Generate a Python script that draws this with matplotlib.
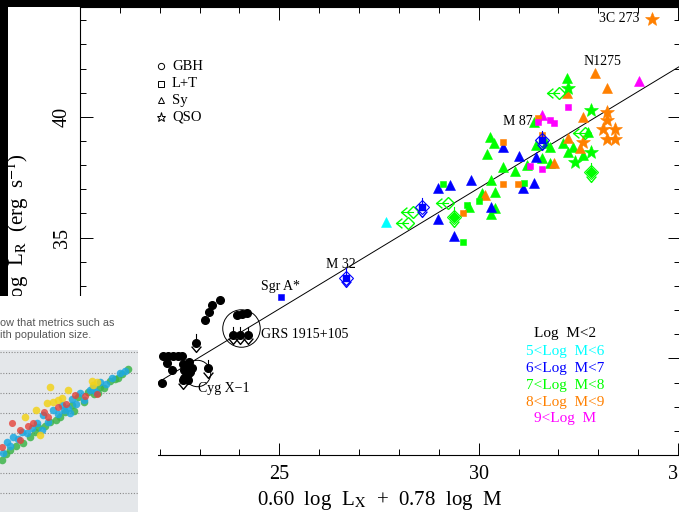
import matplotlib
matplotlib.use('Agg')
import matplotlib.pyplot as plt
from matplotlib.patches import Rectangle
from matplotlib.path import Path
from matplotlib.ticker import MultipleLocator

plt.rcParams['font.family'] = ['Liberation Serif', 'DejaVu Serif']
plt.rcParams['mathtext.fontset'] = 'stix'

# ---------------- data ----------------
# Galactic black holes (filled black circles)
gbh_x = [23.51, 23.31, 23.23, 23.13, 23.93, 24.06, 24.19, 22.08, 22.21, 22.33, 22.46,
         22.56, 22.18, 22.31, 22.58, 22.66, 22.73, 22.61, 22.76, 22.66, 22.81, 22.71,
         22.61, 22.05, 22.63, 22.70]
gbh_y = [32.42, 32.21, 31.92, 31.59, 31.80, 31.84, 31.88, 30.10, 30.10, 30.10, 30.10,
         30.10, 29.81, 29.52, 29.77, 29.60, 29.85, 29.52, 29.44, 29.28, 29.60, 29.11,
         29.20, 28.99, 29.70, 29.36]
# GBH upper limits
gbh_lim_x = [23.83, 24.01, 24.21, 22.91, 23.21, 22.58]
gbh_lim_y = [30.97, 30.97, 30.97, 30.64, 29.60, 29.11]

# AGN: mass bins 0=5-6, 1=6-7, 2=7-8, 3=8-9, 4=>9
sy_x = [30.60, 30.90, 30.30, 30.40, 29.75, 30.40, 30.30, 32.21, 32.73, 32.11, 32.36, 32.23,
        32.61, 30.28, 30.38, 30.20, 31.45, 31.70, 31.80, 31.60, 31.20, 31.78, 31.40, 30.08,
        29.27, 28.97, 29.80, 30.30, 28.97, 29.37, 30.60, 31.00, 31.10, 31.40, 31.43,
        30.15, 32.93, 33.23, 32.21, 32.61, 32.23, 32.53, 31.90,
        34.01, 31.60,
        27.67]
sy_y = [37.91, 37.75, 37.38, 36.88, 36.26, 36.22, 35.97, 41.63, 39.36, 38.90, 38.74, 38.53,
        38.41, 39.15, 38.90, 38.45, 38.82, 38.90, 38.74, 38.29, 38.00, 38.08, 39.77, 36.84,
        37.17, 37.05, 37.38, 36.26, 35.76, 35.06, 38.74, 38.37, 37.05, 37.25, 38.33,
        36.76, 41.80, 41.18, 40.97, 39.98, 39.11, 38.70, 38.08,
        41.47, 40.06,
        35.64]
sy_bin = [2] * 24 + [1] * 11 + [3] * 8 + [4] * 2 + [0]

lt_x = [29.10, 30.00, 29.70, 29.60, 31.13,
        30.60, 30.98, 29.60, 30.60, 31.60, 31.48,
        32.23, 31.50, 31.80, 31.90, 31.30, 31.60,
        25.04]
lt_y = [37.21, 36.51, 36.34, 34.81, 37.25,
        37.21, 37.21, 36.01, 38.95, 39.24, 39.94,
        40.43, 39.77, 39.86, 39.73, 37.95, 37.83,
        32.54]
lt_bin = [2] * 5 + [3] * 6 + [4] * 6 + [1]

qso_x = [34.34, 33.21, 33.21, 33.11, 33.43, 33.23, 33.43, 32.61,
         32.23, 32.81, 32.81, 32.41]
qso_y = [44.07, 40.19, 39.86, 39.48, 39.48, 39.07, 39.07, 38.95,
         41.18, 40.27, 38.53, 38.12]
qso_bin = [3] * 8 + [2] * 4

# limits (open diamonds with arrows)
xlim_x = [32.01, 32.66, 29.22, 28.35, 28.22]
xlim_y = [40.97, 39.32, 36.43, 36.05, 35.60]
ylim_x = [29.37, 32.81, 26.67, 28.57, 31.58]
ylim_y = [35.85, 37.71, 33.33, 36.26, 39.03]
ylim_bin = [2, 2, 1, 1, 1]

bin_colors = ['#00ffff', '#0000ff', '#00ff00', '#ff8000', '#ff00ff']

# fundamental-plane line
fit_x = [20.0, 35.05]
fit_y = [27.05, 42.10]

# source labels
annot_text = ['3C 273', 'N1275', 'M 87', 'Sgr A*', 'M 32', 'GRS 1915+105', 'Cyg X\u22121']
annot_x = [33.53, 33.11, 30.98, 25.04, 26.54, 25.64, 23.61]
annot_y = [44.07, 42.29, 39.81, 32.99, 33.90, 30.97, 28.74]
circle_x = [24.04, 22.93]
circle_y = [31.26, 29.40]
circle_ms = [27, 19]

legend_labels = ['GBH', 'L+T', 'Sy', 'QSO']
legend_y = [42.09, 41.38, 40.68, 39.98]
mass_labels = ['Log  M<2', '5<Log  M<6', '6<Log  M<7', '7<Log  M<8', '8<Log  M<9', '9<Log  M']
mass_colors = ['black'] + bin_colors
mass_y = [31.05, 30.27, 29.57, 28.86, 28.16, 27.50]

# inset (pasted clipping of another chart)
inset_blue_x = [125, 120, 106, 93, 90, 80, 72, 68, 70, 62, 53, 43, 37, 42, 27, 13, 7, 3, 100, 84,
                58, 48, 32, 18, 112, 76, 64, 22, 10, 96]
inset_blue_y = [141, 139, 128, 125, 122, 119, 113, 104, 99, 107, 102, 97, 89, 82, 79, 75, 70, 59,
                130, 112, 98, 90, 84, 73, 134, 108, 102, 80, 66, 120]
inset_green_x = [128, 115, 110, 100, 88, 78, 72, 65, 50, 38, 30, 23, 10, 2, 118, 104, 94, 84, 74,
                 60, 45, 35, 16, 6, 56, 122, 98]
inset_green_y = [143, 133, 131, 125, 120, 115, 107, 100, 90, 85, 75, 69, 62, 52, 134, 124, 118,
                 110, 101, 95, 86, 80, 66, 58, 92, 138, 119]
inset_yellow_x = [97, 93, 50, 53, 58, 47, 68, 25, 40, 62, 36, 92]
inset_yellow_y = [130, 127, 125, 110, 112, 109, 122, 95, 77, 114, 102, 131]
inset_red_x = [97, 85, 75, 58, 48, 12, 33, 20, 20, 2, 44, 66, 28]
inset_red_y = [118, 116, 117, 105, 95, 89, 89, 82, 72, 65, 100, 108, 86]
inset_grid = [19, 39, 59, 79, 99, 119, 139, 160]
inset_lines = ['ow that metrics such as', 'ith population size.']

# ---------------- figure ----------------
W, H = 679, 512
fig = plt.figure(figsize=(W / 100, H / 100), dpi=100)
fig.patch.set_facecolor('white')
ax = fig.add_axes([80 / W, 57 / H, 600 / W, 448 / H])
ax.set_xlim(20, 35.05)
ax.set_ylim(26, 44.55)
for s in ax.spines.values():
    s.set_linewidth(0.8)
ax.xaxis.set_major_locator(MultipleLocator(5))
ax.xaxis.set_minor_locator(MultipleLocator(1))
ax.yaxis.set_major_locator(MultipleLocator(5))
ax.yaxis.set_minor_locator(MultipleLocator(1))
ax.tick_params(which='both', direction='in', top=True, right=True, width=0.7)
ax.tick_params(which='major', length=9)
ax.tick_params(which='minor', length=4)
ax.tick_params(axis='x', labelsize=14.5, pad=7)
ax.tick_params(axis='y', labelsize=14.5, pad=6, labelrotation=90)
for lab in ax.get_yticklabels():
    lab.set_va('center')

ax.plot(fit_x, fit_y, color='black', lw=0.7, zorder=1)

chev_down = Path([(-1, 0.6), (0, -0.6), (1, 0.6)], [Path.MOVETO, Path.LINETO, Path.LINETO])
chev_left = Path([(0.6, 1), (-0.6, 0), (0.6, -1)], [Path.MOVETO, Path.LINETO, Path.LINETO])

# GBH
ax.plot(gbh_x, gbh_y, 'o', ms=5.5, color='black', ls='none', zorder=3)
for x, y in zip(gbh_lim_x, gbh_lim_y):
    ax.plot([x, x], [y, y + 0.35], color='black', lw=0.8, zorder=3)
    ax.plot([x], [y], 'o', ms=5.5, color='black', zorder=3)
    ax.plot([x], [y - 0.27], marker=chev_down, ms=7, mfc='none', mec='black', mew=1.0, ls='none', zorder=3)

# AGN
for xs, ys, bins, mk, ms in [(sy_x, sy_y, sy_bin, '^', 7.8),
                             (lt_x, lt_y, lt_bin, 's', 5),
                             (qso_x, qso_y, qso_bin, '*', 10.5)]:
    for x, y, b in zip(xs, ys, bins):
        ax.plot([x], [y], marker=mk, ms=ms, color=bin_colors[b], mec=bin_colors[b], mew=0.4,
                ls='none', zorder=3)

for x, y in zip(xlim_x, xlim_y):
    c = bin_colors[2]
    ax.plot([x - 0.3, x], [y, y], color=c, lw=0.8, zorder=3)
    ax.plot([x], [y], marker='D', ms=6, mfc='none', mec=c, mew=1.0, ls='none', zorder=3)
    ax.plot([x - 0.22], [y], marker=chev_left, ms=7, mfc='none', mec=c, mew=1.0, ls='none', zorder=3)

for x, y, b in zip(ylim_x, ylim_y, ylim_bin):
    c = bin_colors[b]
    ax.plot([x, x], [y, y + 0.4], color=c, lw=0.8, zorder=3)
    ax.plot([x], [y], marker='s' if b == 1 else 'D', ms=5, color=c, ls='none', zorder=3)
    ax.plot([x], [y], marker='D', ms=7, mfc='none', mec=c, mew=0.8, ls='none', zorder=3)
    ax.plot([x], [y - 0.27], marker=chev_down, ms=7, mfc='none', mec=c, mew=1.0, ls='none', zorder=3)

# circles
for x, y, m in zip(circle_x, circle_y, circle_ms):
    ax.plot([x], [y], 'o', ms=m, mfc='none', mec='black', mew=0.7, zorder=2)

for t, x, y in zip(annot_text, annot_x, annot_y):
    ax.text(x, y, t, fontsize=10, ha='center', va='center', zorder=4)

# marker legend
legend_markers = [('o', 4.5), ('s', 4), ('^', 5), ('*', 6.5)]
for (mk, ms), lab, y in zip(legend_markers, legend_labels, legend_y):
    ax.plot([22.03], [y], marker=mk, ms=ms, mfc='none', mec='black', mew=0.7, ls='none')
    ax.text(22.31, y, lab, fontsize=10.5, ha='left', va='center')

for lab, c, y in zip(mass_labels, mass_colors, mass_y):
    ax.text(32.16, y, lab, fontsize=11, ha='center', va='center', color=c)

fig.text(380 / W, 1 - 500 / H, r'0.60  log  L$_{\rm X}$  +  0.78  log  M', fontsize=15,
         ha='center', va='center')
fig.text(18 / W, 1 - 228 / H, r'log  L$_{\rm R}$  (erg  s$^{-1}$)', fontsize=15,
         ha='center', va='center', rotation=90)

# ---------------- overlays ----------------
fig.add_artist(Rectangle((0, 1 - 6.5 / H), 1, 6.5 / H, transform=fig.transFigure,
                         facecolor='black', edgecolor='none', zorder=6))
fig.add_artist(Rectangle((0, 1 - 296 / H), 8 / W, 296 / H, transform=fig.transFigure,
                         facecolor='black', edgecolor='none', zorder=6))
fig.add_artist(Rectangle((0, 0), 158 / W, (H - 296) / H, transform=fig.transFigure,
                         facecolor='white', edgecolor='none', zorder=6))
for i, line in enumerate(inset_lines):
    fig.text(0, 1 - (323 + 12 * i) / H, line, fontsize=7.8, color='#555555',
             family=['Liberation Sans', 'DejaVu Sans'], ha='left', va='center', zorder=8)

ins = fig.add_axes([0, 0, 138 / W, 162 / H])
ins.set_zorder(10)
ins.set_facecolor('#e4e7ea')
ins.set_xlim(0, 138)
ins.set_ylim(0, 162)
for s in ins.spines.values():
    s.set_visible(False)
ins.set_xticks([])
ins.set_yticks([])
for g in inset_grid:
    ins.axhline(g, color='#8a8a8a', lw=0.8, ls=(0, (1, 1.5)), zorder=1)
ins.scatter(inset_green_x, inset_green_y, s=30, color='#3db54a', alpha=0.85, lw=0, zorder=2)
ins.scatter(inset_blue_x, inset_blue_y, s=30, color='#1ea8e0', alpha=0.85, lw=0, zorder=3)
ins.scatter(inset_yellow_x, inset_yellow_y, s=30, color='#f1d21c', alpha=0.85, lw=0, zorder=4)
ins.scatter(inset_red_x, inset_red_y, s=26, color='#e4423a', alpha=0.8, lw=0, zorder=5)

fig.savefig('out.png', dpi=100)
